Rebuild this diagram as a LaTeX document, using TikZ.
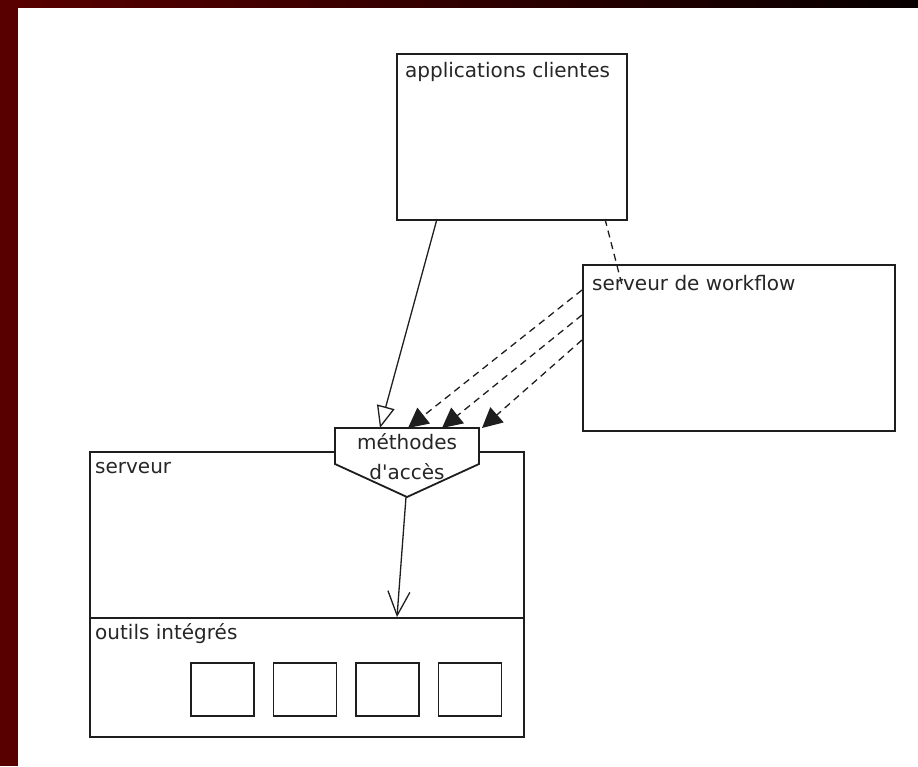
\documentclass[tikz,border=0pt]{standalone}
\usepackage{fontspec}
\newfontfamily\diafont{DejaVu Sans}
\usetikzlibrary{arrows.meta}
\definecolor{slidered}{RGB}{88,0,0}
\definecolor{linegray}{RGB}{30,30,30}
\tikzset{
  box/.style={draw=linegray, line width=1.8pt, fill=white, inner sep=0pt, anchor=north west},
  lbl/.style={anchor=west, inner sep=0pt, font=\diafont\fontsize{20}{30}\selectfont, text=black!85},
  link/.style={draw=linegray, line width=1.3pt},
  dep/.style={link, dash pattern=on 7pt off 5pt},
}
\begin{document}
\begin{tikzpicture}[x=1pt,y=-1pt]
\useasboundingbox (0,0) rectangle (918,766);
% slide frame
\fill[slidered] (0,0) rectangle (18,766);
\shade[left color=slidered, right color=black!92!slidered] (18,0) rectangle (918,7);

% boxes
\node[box, minimum width=230pt, minimum height=166pt] (apps) at (396,53) {};
\node[box, minimum width=312pt, minimum height=166pt] (wf) at (582,264) {};
\node[box, minimum width=434pt, minimum height=166pt] (srv) at (89,451) {};
\node[box, minimum width=434pt, minimum height=119pt] (tools) at (89,617) {};
\node[box, minimum width=63pt, minimum height=53pt] (t1) at (190,662) {};
\node[box, minimum width=63pt, minimum height=53pt] (t2) at (272.5,662) {};
\node[box, minimum width=63pt, minimum height=53pt] (t3) at (355,662) {};
\node[box, minimum width=63pt, minimum height=53pt] (t4) at (437.5,662) {};

\node[lbl] (appslbl) at (405,72) {applications clientes};
\node[lbl] (wflbl) at (592,283) {serveur de workflow};
\node[lbl] (srvlbl) at (95,468) {serveur};
\node[lbl] (toolslbl) at (95,634) {outils intégrés};

% access methods
\filldraw[draw=linegray, line width=1.8pt, fill=white]
  (335,428) -- (479,428) -- (479,464) -- (407,497) -- (335,464) -- cycle;
\node[lbl, anchor=center, align=center] (acc) at (407,457) {méthodes\\d'accès};

% connectors
\coordinate (appsout) at (437,219);
\coordinate (accin0) at (380,428);
\coordinate (appsdash) at (605,219);
\coordinate (wfdash) at (622,285);
\coordinate (wf1) at (582,290);
\coordinate (wf2) at (582,315);
\coordinate (wf3) at (582,340);
\coordinate (accin1) at (408,428);
\coordinate (accin2) at (442,428);
\coordinate (accin3) at (482,428);
\coordinate (accout) at (406,497);
\coordinate (toolsin) at (397,617);

\path[link, -{Triangle[open, length=22pt, width=18pt]}] (appsout) -- (accin0);
\path[dep] (appsdash) -- (wfdash);
\path[dep, -{Triangle[length=20pt, width=20pt]}] (wf1) -- (accin1);
\path[dep, -{Triangle[length=20pt, width=20pt]}] (wf2) -- (accin2);
\path[dep, -{Triangle[length=20pt, width=20pt]}] (wf3) -- (accin3);
\path[link, -{Straight Barb[length=24pt, width=22pt]}] (accout) -- (toolsin);
\end{tikzpicture}
\end{document}
